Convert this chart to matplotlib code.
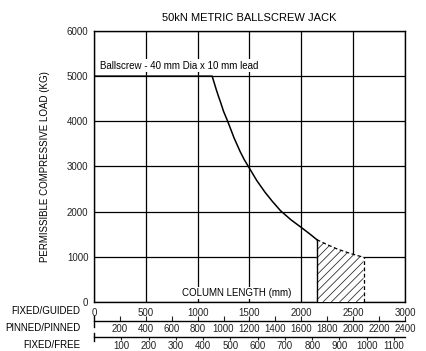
import numpy as np
import matplotlib
matplotlib.use("Agg")
import matplotlib.pyplot as plt

plt.rcParams['font.family'] = ['Liberation Sans', 'DejaVu Sans']
plt.rcParams['hatch.linewidth'] = 0.6

# load curve (column length mm, load kg)
length = [0, 1140, 1160, 1180, 1200, 1220, 1250, 1290, 1350, 1410, 1450, 1500,
          1570, 1650, 1720, 1800, 1900, 2000, 2080, 2150]
load = [5000, 5000, 4850, 4700, 4560, 4430, 4220, 4000, 3640, 3330, 3150, 2960,
        2690, 2430, 2230, 2020, 1820, 1650, 1510, 1380]

# dashed / hatched tail
tail_length = [2150, 2250, 2350, 2470, 2600]
tail_load = [1380, 1270, 1170, 1077, 990]

x_ticks = [0, 500, 1000, 1500, 2000, 2500, 3000]
y_ticks = [0, 1000, 2000, 3000, 4000, 5000, 6000]
pinned_ticks = [200, 400, 600, 800, 1000, 1200, 1400, 1600, 1800, 2000, 2200, 2400]
free_ticks = [100, 200, 300, 400, 500, 600, 700, 800, 900, 1000, 1100]

PINNED = 0.8   # pinned/pinned length = 0.8 x fixed/guided
FREE = 0.38    # fixed/free length = 0.38 x fixed/guided

fig = plt.figure(figsize=(4.27, 3.51), dpi=100)
ax = fig.add_axes([0.2201, 0.1396, 0.7283, 0.7721])

ax.plot(length, load, color='black', lw=1.1, zorder=4)
ax.plot(tail_length, tail_load, color='black', lw=0.9, ls=(0, (3, 2)), zorder=4)
ax.plot([tail_length[-1], tail_length[-1]], [0, tail_load[-1]], color='black', lw=0.9,
        ls=(0, (3, 2)), zorder=4)
ax.plot([tail_length[0], tail_length[0]], [0, tail_load[0]], color='black', lw=1.0, zorder=4)
ax.fill_between(tail_length, 0, tail_load, facecolor='white', edgecolor='#333333',
                hatch='////', lw=0, zorder=3)

ax.set_xlim(0, 3000)
ax.set_ylim(0, 6000)
ax.set_xticks(x_ticks)
ax.set_yticks(y_ticks)
ax.grid(True, color='black', lw=0.9)
ax.set_axisbelow(True)
ax.tick_params(axis='both', labelsize=7, length=0, pad=4, colors='#222222')
for s in ax.spines.values():
    s.set_linewidth(1.0)

ax.set_title('50kN METRIC BALLSCREW JACK', fontsize=8, pad=7)
ax.set_ylabel('PERMISSIBLE COMPRESSIVE LOAD (KG)', fontsize=7, labelpad=12)

ax.text(60, 5230, 'Ballscrew - 40 mm Dia x 10 mm lead', fontsize=7, va='center',
        bbox=dict(facecolor='white', edgecolor='none', pad=1), zorder=5)
ax.text(1380, 200, 'COLUMN LENGTH (mm)', fontsize=7, ha='center', va='center',
        bbox=dict(facecolor='white', edgecolor='none', pad=1), zorder=5)

# secondary length scales
sec1 = ax.secondary_xaxis(-0.07, functions=(lambda x: x * PINNED, lambda x: x / PINNED))
sec1.set_xticks(pinned_ticks)
sec1.tick_params(labelsize=7, direction='in', length=3.5, pad=2.5, colors='#222222')
sec1.spines['bottom'].set_linewidth(1.0)

sec2 = ax.secondary_xaxis(-0.128, functions=(lambda x: x * FREE, lambda x: x / FREE))
sec2.set_xticks(free_ticks)
sec2.tick_params(labelsize=7, direction='out', length=2.5, pad=0.8, colors='#222222')
sec2.spines['bottom'].set_linewidth(1.0)

ax.plot([0, 0], [-0.05, -0.092], transform=ax.transAxes, color='black', lw=1.0, clip_on=False)
ax.plot([0, 0], [-0.113, -0.143], transform=ax.transAxes, color='black', lw=1.0, clip_on=False)

fig.text(80 / 427, 1 - 311 / 351, 'FIXED/GUIDED', fontsize=7, ha='right', va='center')
fig.text(80 / 427, 1 - 328 / 351, 'PINNED/PINNED', fontsize=7, ha='right', va='center')
fig.text(80 / 427, 1 - 345 / 351, 'FIXED/FREE', fontsize=7, ha='right', va='center')

fig.savefig('out.png', dpi=100)
